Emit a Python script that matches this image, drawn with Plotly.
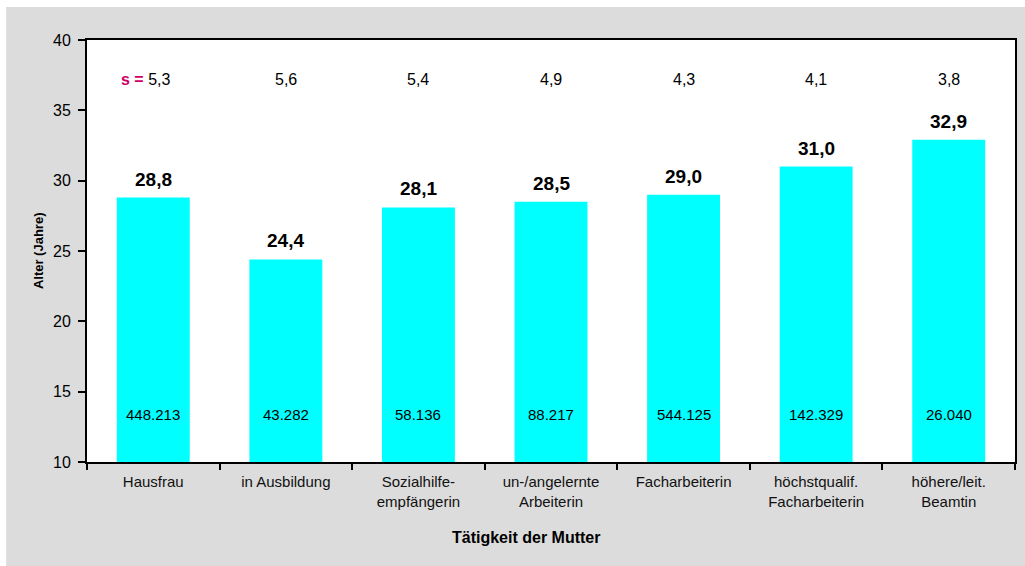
import plotly.graph_objects as go

categories = ["Hausfrau", "in Ausbildung", "Sozialhilfe-<br>empfängerin", "un-/angelernte<br>Arbeiterin",
              "Facharbeiterin", "höchstqualif.<br>Facharbeiterin", "höhere/leit.<br>Beamtin"]
ages = [28.8, 24.4, 28.1, 28.5, 29.0, 31.0, 32.9]
age_labels = ["28,8", "24,4", "28,1", "28,5", "29,0", "31,0", "32,9"]
sd_labels = ["5,3", "5,6", "5,4", "4,9", "4,3", "4,1", "3,8"]
n_labels = ["448.213", "43.282", "58.136", "88.217", "544.125", "142.329", "26.040"]
y_ticks = [10, 15, 20, 25, 30, 35, 40]

FONT = "Liberation Sans, Arial, sans-serif"
W, H = 1025, 566
L, R, T, B = 87, 8, 40, 104
pw, ph = W - L - R, H - T - B

fig = go.Figure()
fig.add_trace(go.Bar(x=categories, y=[a - 10 for a in ages], base=10, width=0.55,
                     marker=dict(color="#00FFFF", line=dict(width=0)), hoverinfo="skip"))

ann = []
for i, c in enumerate(categories):
    ann.append(dict(x=c, y=ages[i], text="<b>%s</b>" % age_labels[i], showarrow=False,
                    yanchor="bottom", yshift=6, font=dict(size=19, color="black", family=FONT)))
    sd_text = sd_labels[i] if i > 0 else "<b><span style='color:#CC0066'>s =</span></b> " + sd_labels[i]
    ann.append(dict(x=c, y=37.2, text=sd_text, showarrow=False, yanchor="middle",
                    xshift=(-8 if i == 0 else 0),
                    font=dict(size=16, color="black", family=FONT)))
    ann.append(dict(x=c, y=13.35, text=n_labels[i], showarrow=False, yanchor="middle",
                    font=dict(size=15, color="black", family=FONT)))

ann.append(dict(xref="paper", yref="paper", x=(527 - L) / pw, y=(H - B - 537) / ph,
                text="<b>Tätigkeit der Mutter</b>", showarrow=False, xanchor="center", yanchor="middle",
                font=dict(size=16, color="black", family=FONT)))
ann.append(dict(xref="paper", yref="paper", x=(38 - L) / pw, y=0.5, textangle=-90,
                text="<b>Alter (Jahre)</b>", showarrow=False, xanchor="center", yanchor="middle",
                font=dict(size=13, color="black", family=FONT)))

fig.update_layout(
    width=W, height=H,
    margin=dict(l=L, r=R, t=T, b=B),
    paper_bgcolor="white", plot_bgcolor="white",
    showlegend=False,
    font=dict(family=FONT, color="black"),
    annotations=ann,
    shapes=[dict(type="rect", xref="paper", yref="paper",
                 x0=(6 - L) / pw, x1=(W - L) / pw + 0.01,
                 y0=(H - B - H) / ph - 0.01, y1=(H - B - 7) / ph,
                 fillcolor="#DCDCDC", line=dict(width=0), layer="below"),
            dict(type="rect", xref="paper", yref="paper", x0=0, x1=1, y0=0, y1=1,
                 fillcolor="white", line=dict(width=0), layer="below")],
)
fig.update_xaxes(type="category", tickson="boundaries", ticks="outside", ticklen=6, tickwidth=2,
                 tickcolor="black", showline=True, linecolor="black", linewidth=2, mirror=True,
                 showgrid=False, tickfont=dict(size=15, color="#111111", family=FONT),
                 ticklabelstandoff=5)
fig.update_yaxes(range=[10, 40], tickvals=y_ticks, ticks="outside", ticklen=7, tickwidth=2,
                 tickcolor="black", showline=True, linecolor="black", linewidth=2, mirror=True,
                 showgrid=False, zeroline=False, tickfont=dict(size=16, color="black", family=FONT),
                 ticklabelstandoff=4)

fig.write_html("out.html", config={"displayModeBar": False},
               post_script="document.body.style.margin='0';document.body.style.overflow='hidden';")
